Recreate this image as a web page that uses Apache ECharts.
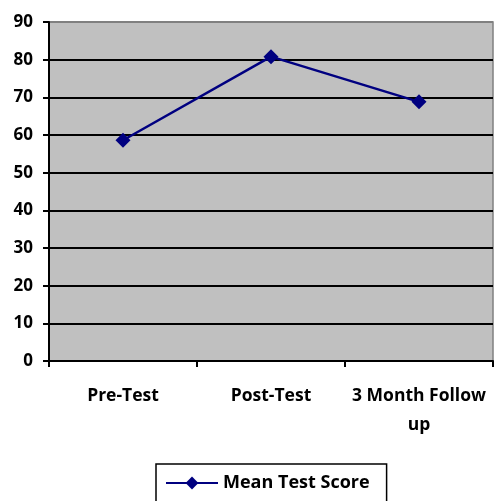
<!DOCTYPE html>
<html><head><meta charset="utf-8">
<script src="https://cdn.jsdelivr.net/npm/echarts@6/dist/echarts.min.js"></script>
<style>html,body{margin:0;padding:0;background:#fff}#c{width:496px;height:501px}</style>
</head><body><div id="c"></div>
<script>
const categories = ['Pre-Test', 'Post-Test', '3 Month Follow up'];
const seriesName = 'Mean Test Score';
const meanScores = [58.6, 80.8, 68.8];
const yTicks = { min: 0, max: 90, interval: 10 };

const FONT = '"Open Sans", "Liberation Sans", sans-serif';
const chart = echarts.init(document.getElementById('c'));
const splitColors = ['#000','#000','#000','#000','#000','#000','#000','#000','#000','#808080'];
chart.setOption({
  animation: false,
  grid: { left: 49, right: 3, top: 22, bottom: 140, show: true, backgroundColor: '#C0C0C0', borderColor: '#808080', borderWidth: 1.5 },
  xAxis: {
    type: 'category', data: categories, boundaryGap: true,
    axisLine: { lineStyle: { color: '#000', width: 2 } },
    axisTick: { show: true, length: 6, lineStyle: { color: '#000', width: 2 } },
    axisLabel: { color: '#000', fontWeight: 'bold', fontSize: 17.5, fontFamily: FONT, margin: 21, lineHeight: 29, interval: 0,
      formatter: v => v.replace('Follow up', 'Follow\nup') }
  },
  yAxis: {
    type: 'value', min: yTicks.min, max: yTicks.max, interval: yTicks.interval,
    axisLine: { show: true, lineStyle: { color: '#000', width: 2 } },
    axisTick: { show: true, length: 6, lineStyle: { color: '#000', width: 2 } },
    axisLabel: { color: '#000', fontWeight: 'bold', fontSize: 17, fontFamily: FONT, margin: 16 },
    splitLine: { show: true, lineStyle: { color: splitColors, width: 2 } }
  },
  legend: {
    top: 464, left: 156, data: [seriesName],
    itemWidth: 52, itemHeight: 16, itemGap: 6,
    borderColor: '#000', borderWidth: 1.5, padding: [10, 17, 10, 9],
    textStyle: { color: '#000', fontWeight: 'bold', fontSize: 18, fontFamily: FONT }
  },
  series: [{
    name: seriesName, type: 'line', data: meanScores,
    symbol: 'diamond', symbolSize: 15,
    lineStyle: { color: '#000080', width: 2.5 },
    itemStyle: { color: '#000080' }
  }]
});
</script></body></html>
